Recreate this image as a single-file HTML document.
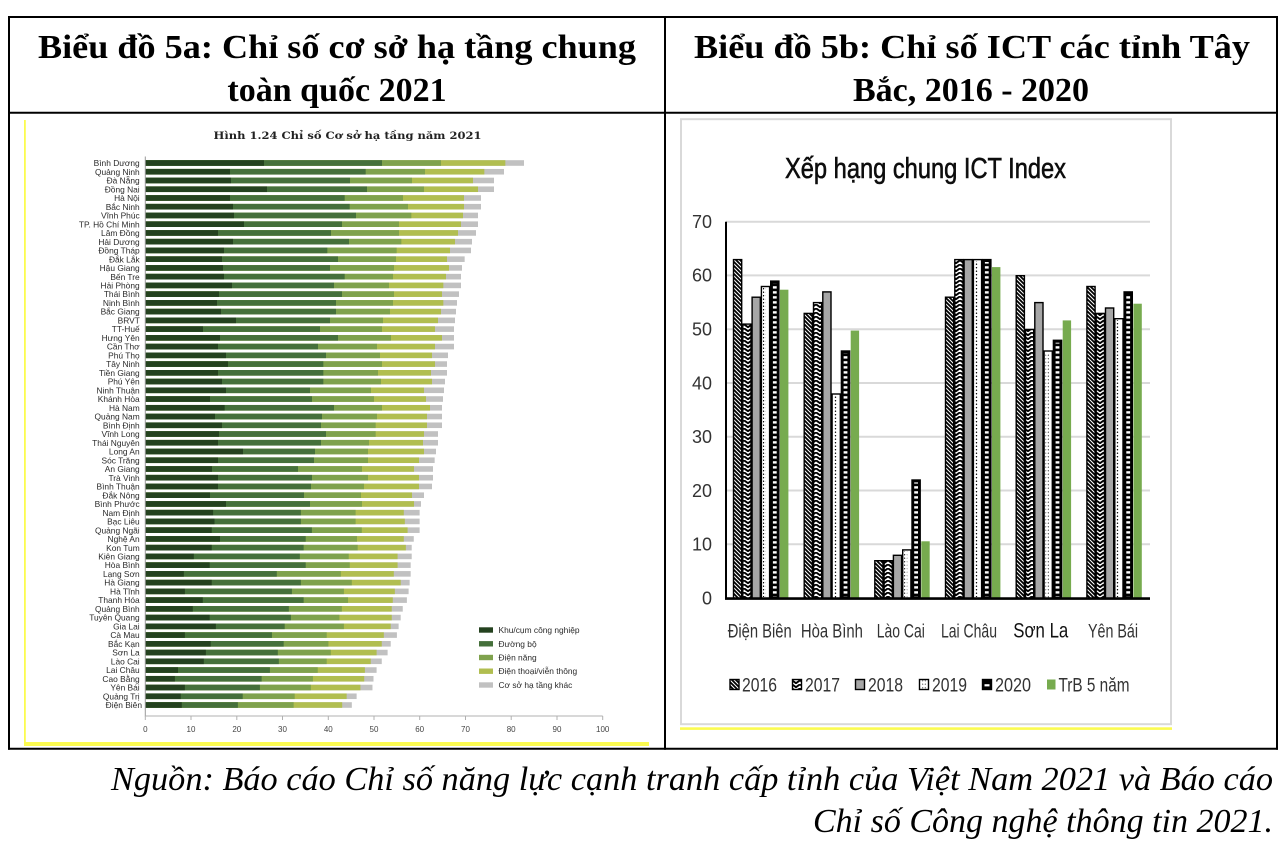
<!DOCTYPE html>
<html><head><meta charset="utf-8">
<style>
html,body{margin:0;padding:0;background:#fff;}
svg{display:block;}
.a{fill:#24421f}.b{fill:#45703b}.c{fill:#7fa24d}.d{fill:#b1be50}.e{fill:#c1c1c1}
.pl{font-family:"Liberation Sans",sans-serif;font-size:8.4px;fill:#2a2a2a;}
.tk{font-family:"Liberation Sans",sans-serif;font-size:8px;fill:#444;}
.rt{font-family:"Liberation Sans Narrow","Liberation Sans",sans-serif;fill:#333;}
</style></head>
<body>
<svg width="1286" height="842" viewBox="0 0 1286 842" xmlns="http://www.w3.org/2000/svg">
<defs>
<clipPath id="cl"><rect x="145.3" y="150" width="470" height="570"/></clipPath>
<pattern id="p16" patternUnits="userSpaceOnUse" width="4" height="4"><rect width="4" height="4" fill="#fff"/><path d="M-1,-1 L5,5 M-1,3 L1,5 M3,-1 L5,1" stroke="#000" stroke-width="1.8"/></pattern>
<pattern id="p17" patternUnits="userSpaceOnUse" width="8" height="4"><rect width="8" height="4" fill="#fff"/><path d="M0,0.3 L4,3.2 L8,0.3" stroke="#000" stroke-width="1.9" fill="none"/></pattern>
<pattern id="p19" patternUnits="userSpaceOnUse" width="3" height="3.5"><circle cx="1.5" cy="1.75" r="0.7" fill="#000"/></pattern>
<pattern id="p20" patternUnits="userSpaceOnUse" width="10" height="5"><rect width="10" height="5" fill="#000"/><rect y="1.2" width="10" height="2.4" fill="#fff"/></pattern>
</defs>

<!-- table borders -->
<g stroke="#000" stroke-width="2" fill="none">
<line x1="8" y1="17" x2="1278" y2="17"/>
<line x1="8" y1="748.7" x2="1278" y2="748.7"/>
<line x1="9" y1="16" x2="9" y2="749.7"/>
<line x1="1277" y1="16" x2="1277" y2="749.7"/>
<line x1="665" y1="16" x2="665" y2="749.7"/>
<line x1="8" y1="112.7" x2="1278" y2="112.7"/>
</g>

<!-- headers -->
<g font-family="'Liberation Serif',serif" font-weight="bold" font-size="34" fill="#000" text-anchor="middle">
<text x="337" y="58" textLength="598" lengthAdjust="spacingAndGlyphs">Biểu đồ 5a: Chỉ số cơ sở hạ tầng chung</text>
<text x="337" y="101">toàn quốc 2021</text>
<text x="972" y="58" textLength="556" lengthAdjust="spacingAndGlyphs">Biểu đồ 5b: Chỉ số ICT các tỉnh Tây</text>
<text x="971" y="101">Bắc, 2016 - 2020</text>
</g>

<!-- source -->
<g font-family="'Liberation Serif',serif" font-style="italic" font-size="34" fill="#000" text-anchor="end">
<text x="1273" y="790" textLength="1162" lengthAdjust="spacingAndGlyphs">Nguồn: Báo cáo Chỉ số năng lực cạnh tranh cấp tỉnh của Việt Nam 2021 và Báo cáo</text>
<text x="1273" y="832" textLength="460" lengthAdjust="spacingAndGlyphs">Chỉ số Công nghệ thông tin 2021.</text>
</g>

<!-- LEFT CHART -->
<rect x="24" y="120" width="1.8" height="626" fill="#fbfb50"/>
<rect x="24.6" y="742" width="624.4" height="4" fill="#fbfb50"/>

<text x="347.5" y="139" text-anchor="middle" font-family="'DejaVu Serif','Liberation Serif',serif" font-weight="bold" font-size="10" fill="#222" textLength="268" lengthAdjust="spacingAndGlyphs">Hình 1.24 Chỉ số Cơ sở hạ tầng năm 2021</text>

<g clip-path="url(#cl)">
<g transform="translate(80,0) scale(0.333333,1)">
<rect y="160.2" height="5.6" width="1332" class="e"/><rect y="160.2" height="5.6" width="1276" class="d"/><rect y="160.2" height="5.6" width="1083" class="c"/><rect y="160.2" height="5.6" width="906" class="b"/><rect y="160.2" height="5.6" width="552" class="a"/>
<rect y="168.94" height="5.6" width="1272" class="e"/><rect y="168.94" height="5.6" width="1213" class="d"/><rect y="168.94" height="5.6" width="1035" class="c"/><rect y="168.94" height="5.6" width="857" class="b"/><rect y="168.94" height="5.6" width="450" class="a"/>
<rect y="177.68" height="5.6" width="1242" class="e"/><rect y="177.68" height="5.6" width="1179" class="d"/><rect y="177.68" height="5.6" width="996" class="c"/><rect y="177.68" height="5.6" width="810" class="b"/><rect y="177.68" height="5.6" width="453" class="a"/>
<rect y="186.43" height="5.6" width="1242" class="e"/><rect y="186.43" height="5.6" width="1194" class="d"/><rect y="186.43" height="5.6" width="1032" class="c"/><rect y="186.43" height="5.6" width="861" class="b"/><rect y="186.43" height="5.6" width="561" class="a"/>
<rect y="195.17" height="5.6" width="1203" class="e"/><rect y="195.17" height="5.6" width="1152" class="d"/><rect y="195.17" height="5.6" width="969" class="c"/><rect y="195.17" height="5.6" width="794" class="b"/><rect y="195.17" height="5.6" width="450" class="a"/>
<rect y="203.91" height="5.6" width="1203" class="e"/><rect y="203.91" height="5.6" width="1152" class="d"/><rect y="203.91" height="5.6" width="984" class="c"/><rect y="203.91" height="5.6" width="809" class="b"/><rect y="203.91" height="5.6" width="459" class="a"/>
<rect y="212.65" height="5.6" width="1194" class="e"/><rect y="212.65" height="5.6" width="1149" class="d"/><rect y="212.65" height="5.6" width="994" class="c"/><rect y="212.65" height="5.6" width="828" class="b"/><rect y="212.65" height="5.6" width="462" class="a"/>
<rect y="221.39" height="5.6" width="1194" class="e"/><rect y="221.39" height="5.6" width="1143" class="d"/><rect y="221.39" height="5.6" width="957" class="c"/><rect y="221.39" height="5.6" width="786" class="b"/><rect y="221.39" height="5.6" width="492" class="a"/>
<rect y="230.14" height="5.6" width="1188" class="e"/><rect y="230.14" height="5.6" width="1134" class="d"/><rect y="230.14" height="5.6" width="957" class="c"/><rect y="230.14" height="5.6" width="753" class="b"/><rect y="230.14" height="5.6" width="414" class="a"/>
<rect y="238.88" height="5.6" width="1176" class="e"/><rect y="238.88" height="5.6" width="1125" class="d"/><rect y="238.88" height="5.6" width="964" class="c"/><rect y="238.88" height="5.6" width="807" class="b"/><rect y="238.88" height="5.6" width="459" class="a"/>
<rect y="247.62" height="5.6" width="1173" class="e"/><rect y="247.62" height="5.6" width="1110" class="d"/><rect y="247.62" height="5.6" width="950" class="c"/><rect y="247.62" height="5.6" width="742" class="b"/><rect y="247.62" height="5.6" width="432" class="a"/>
<rect y="256.36" height="5.6" width="1154" class="e"/><rect y="256.36" height="5.6" width="1101" class="d"/><rect y="256.36" height="5.6" width="948" class="c"/><rect y="256.36" height="5.6" width="774" class="b"/><rect y="256.36" height="5.6" width="426" class="a"/>
<rect y="265.1" height="5.6" width="1146" class="e"/><rect y="265.1" height="5.6" width="1107" class="d"/><rect y="265.1" height="5.6" width="942" class="c"/><rect y="265.1" height="5.6" width="750" class="b"/><rect y="265.1" height="5.6" width="429" class="a"/>
<rect y="273.85" height="5.6" width="1143" class="e"/><rect y="273.85" height="5.6" width="1098" class="d"/><rect y="273.85" height="5.6" width="939" class="c"/><rect y="273.85" height="5.6" width="794" class="b"/><rect y="273.85" height="5.6" width="432" class="a"/>
<rect y="282.59" height="5.6" width="1143" class="e"/><rect y="282.59" height="5.6" width="1090" class="d"/><rect y="282.59" height="5.6" width="927" class="c"/><rect y="282.59" height="5.6" width="762" class="b"/><rect y="282.59" height="5.6" width="456" class="a"/>
<rect y="291.33" height="5.6" width="1137" class="e"/><rect y="291.33" height="5.6" width="1086" class="d"/><rect y="291.33" height="5.6" width="942" class="c"/><rect y="291.33" height="5.6" width="786" class="b"/><rect y="291.33" height="5.6" width="417" class="a"/>
<rect y="300.07" height="5.6" width="1131" class="e"/><rect y="300.07" height="5.6" width="1090" class="d"/><rect y="300.07" height="5.6" width="939" class="c"/><rect y="300.07" height="5.6" width="768" class="b"/><rect y="300.07" height="5.6" width="411" class="a"/>
<rect y="308.81" height="5.6" width="1128" class="e"/><rect y="308.81" height="5.6" width="1083" class="d"/><rect y="308.81" height="5.6" width="930" class="c"/><rect y="308.81" height="5.6" width="768" class="b"/><rect y="308.81" height="5.6" width="423" class="a"/>
<rect y="317.56" height="5.6" width="1125" class="e"/><rect y="317.56" height="5.6" width="1074" class="d"/><rect y="317.56" height="5.6" width="909" class="c"/><rect y="317.56" height="5.6" width="750" class="b"/><rect y="317.56" height="5.6" width="468" class="a"/>
<rect y="326.3" height="5.6" width="1122" class="e"/><rect y="326.3" height="5.6" width="1065" class="d"/><rect y="326.3" height="5.6" width="906" class="c"/><rect y="326.3" height="5.6" width="720" class="b"/><rect y="326.3" height="5.6" width="369" class="a"/>
<rect y="335.04" height="5.6" width="1122" class="e"/><rect y="335.04" height="5.6" width="1086" class="d"/><rect y="335.04" height="5.6" width="933" class="c"/><rect y="335.04" height="5.6" width="774" class="b"/><rect y="335.04" height="5.6" width="420" class="a"/>
<rect y="343.78" height="5.6" width="1122" class="e"/><rect y="343.78" height="5.6" width="1065" class="d"/><rect y="343.78" height="5.6" width="891" class="c"/><rect y="343.78" height="5.6" width="714" class="b"/><rect y="343.78" height="5.6" width="414" class="a"/>
<rect y="352.52" height="5.6" width="1104" class="e"/><rect y="352.52" height="5.6" width="1056" class="d"/><rect y="352.52" height="5.6" width="900" class="c"/><rect y="352.52" height="5.6" width="738" class="b"/><rect y="352.52" height="5.6" width="438" class="a"/>
<rect y="361.27" height="5.6" width="1101" class="e"/><rect y="361.27" height="5.6" width="1065" class="d"/><rect y="361.27" height="5.6" width="906" class="c"/><rect y="361.27" height="5.6" width="730" class="b"/><rect y="361.27" height="5.6" width="444" class="a"/>
<rect y="370.01" height="5.6" width="1101" class="e"/><rect y="370.01" height="5.6" width="1053" class="d"/><rect y="370.01" height="5.6" width="894" class="c"/><rect y="370.01" height="5.6" width="730" class="b"/><rect y="370.01" height="5.6" width="414" class="a"/>
<rect y="378.75" height="5.6" width="1095" class="e"/><rect y="378.75" height="5.6" width="1056" class="d"/><rect y="378.75" height="5.6" width="903" class="c"/><rect y="378.75" height="5.6" width="730" class="b"/><rect y="378.75" height="5.6" width="426" class="a"/>
<rect y="387.49" height="5.6" width="1092" class="e"/><rect y="387.49" height="5.6" width="1032" class="d"/><rect y="387.49" height="5.6" width="873" class="c"/><rect y="387.49" height="5.6" width="690" class="b"/><rect y="387.49" height="5.6" width="438" class="a"/>
<rect y="396.23" height="5.6" width="1089" class="e"/><rect y="396.23" height="5.6" width="1038" class="d"/><rect y="396.23" height="5.6" width="882" class="c"/><rect y="396.23" height="5.6" width="696" class="b"/><rect y="396.23" height="5.6" width="390" class="a"/>
<rect y="404.98" height="5.6" width="1086" class="e"/><rect y="404.98" height="5.6" width="1050" class="d"/><rect y="404.98" height="5.6" width="906" class="c"/><rect y="404.98" height="5.6" width="762" class="b"/><rect y="404.98" height="5.6" width="434" class="a"/>
<rect y="413.72" height="5.6" width="1086" class="e"/><rect y="413.72" height="5.6" width="1041" class="d"/><rect y="413.72" height="5.6" width="891" class="c"/><rect y="413.72" height="5.6" width="726" class="b"/><rect y="413.72" height="5.6" width="405" class="a"/>
<rect y="422.46" height="5.6" width="1086" class="e"/><rect y="422.46" height="5.6" width="1041" class="d"/><rect y="422.46" height="5.6" width="887" class="c"/><rect y="422.46" height="5.6" width="723" class="b"/><rect y="422.46" height="5.6" width="426" class="a"/>
<rect y="431.2" height="5.6" width="1074" class="e"/><rect y="431.2" height="5.6" width="1032" class="d"/><rect y="431.2" height="5.6" width="887" class="c"/><rect y="431.2" height="5.6" width="738" class="b"/><rect y="431.2" height="5.6" width="417" class="a"/>
<rect y="439.94" height="5.6" width="1074" class="e"/><rect y="439.94" height="5.6" width="1029" class="d"/><rect y="439.94" height="5.6" width="867" class="c"/><rect y="439.94" height="5.6" width="723" class="b"/><rect y="439.94" height="5.6" width="414" class="a"/>
<rect y="448.69" height="5.6" width="1068" class="e"/><rect y="448.69" height="5.6" width="1032" class="d"/><rect y="448.69" height="5.6" width="864" class="c"/><rect y="448.69" height="5.6" width="705" class="b"/><rect y="448.69" height="5.6" width="489" class="a"/>
<rect y="457.43" height="5.6" width="1064" class="e"/><rect y="457.43" height="5.6" width="1017" class="d"/><rect y="457.43" height="5.6" width="864" class="c"/><rect y="457.43" height="5.6" width="702" class="b"/><rect y="457.43" height="5.6" width="414" class="a"/>
<rect y="466.17" height="5.6" width="1059" class="e"/><rect y="466.17" height="5.6" width="1002" class="d"/><rect y="466.17" height="5.6" width="846" class="c"/><rect y="466.17" height="5.6" width="654" class="b"/><rect y="466.17" height="5.6" width="396" class="a"/>
<rect y="474.91" height="5.6" width="1059" class="e"/><rect y="474.91" height="5.6" width="1017" class="d"/><rect y="474.91" height="5.6" width="864" class="c"/><rect y="474.91" height="5.6" width="696" class="b"/><rect y="474.91" height="5.6" width="414" class="a"/>
<rect y="483.65" height="5.6" width="1056" class="e"/><rect y="483.65" height="5.6" width="1017" class="d"/><rect y="483.65" height="5.6" width="852" class="c"/><rect y="483.65" height="5.6" width="693" class="b"/><rect y="483.65" height="5.6" width="414" class="a"/>
<rect y="492.4" height="5.6" width="1032" class="e"/><rect y="492.4" height="5.6" width="996" class="d"/><rect y="492.4" height="5.6" width="843" class="c"/><rect y="492.4" height="5.6" width="672" class="b"/><rect y="492.4" height="5.6" width="390" class="a"/>
<rect y="501.14" height="5.6" width="1023" class="e"/><rect y="501.14" height="5.6" width="1002" class="d"/><rect y="501.14" height="5.6" width="846" class="c"/><rect y="501.14" height="5.6" width="690" class="b"/><rect y="501.14" height="5.6" width="438" class="a"/>
</g>
<g transform="translate(79.9,0) scale(0.3442,1)">
<rect y="509.88" height="5.6" width="987" class="e"/><rect y="509.88" height="5.6" width="941" class="d"/><rect y="509.88" height="5.6" width="801" class="c"/><rect y="509.88" height="5.6" width="642" class="b"/><rect y="509.88" height="5.6" width="387" class="a"/>
<rect y="518.62" height="5.6" width="987" class="e"/><rect y="518.62" height="5.6" width="944" class="d"/><rect y="518.62" height="5.6" width="801" class="c"/><rect y="518.62" height="5.6" width="642" class="b"/><rect y="518.62" height="5.6" width="391" class="a"/>
<rect y="527.36" height="5.6" width="987" class="e"/><rect y="527.36" height="5.6" width="952" class="d"/><rect y="527.36" height="5.6" width="819" class="c"/><rect y="527.36" height="5.6" width="674" class="b"/><rect y="527.36" height="5.6" width="383" class="a"/>
<rect y="536.11" height="5.6" width="970" class="e"/><rect y="536.11" height="5.6" width="941" class="d"/><rect y="536.11" height="5.6" width="805" class="c"/><rect y="536.11" height="5.6" width="656" class="b"/><rect y="536.11" height="5.6" width="407" class="a"/>
<rect y="544.85" height="5.6" width="964" class="e"/><rect y="544.85" height="5.6" width="947" class="d"/><rect y="544.85" height="5.6" width="807" class="c"/><rect y="544.85" height="5.6" width="650" class="b"/><rect y="544.85" height="5.6" width="383" class="a"/>
<rect y="553.59" height="5.6" width="964" class="e"/><rect y="553.59" height="5.6" width="923" class="d"/><rect y="553.59" height="5.6" width="781" class="c"/><rect y="553.59" height="5.6" width="639" class="b"/><rect y="553.59" height="5.6" width="331" class="a"/>
<rect y="562.33" height="5.6" width="961" class="e"/><rect y="562.33" height="5.6" width="923" class="d"/><rect y="562.33" height="5.6" width="784" class="c"/><rect y="562.33" height="5.6" width="656" class="b"/><rect y="562.33" height="5.6" width="377" class="a"/>
<rect y="571.07" height="5.6" width="961" class="e"/><rect y="571.07" height="5.6" width="912" class="d"/><rect y="571.07" height="5.6" width="758" class="c"/><rect y="571.07" height="5.6" width="572" class="b"/><rect y="571.07" height="5.6" width="302" class="a"/>
<rect y="579.82" height="5.6" width="958" class="e"/><rect y="579.82" height="5.6" width="932" class="d"/><rect y="579.82" height="5.6" width="790" class="c"/><rect y="579.82" height="5.6" width="642" class="b"/><rect y="579.82" height="5.6" width="383" class="a"/>
<rect y="588.56" height="5.6" width="955" class="e"/><rect y="588.56" height="5.6" width="915" class="d"/><rect y="588.56" height="5.6" width="767" class="c"/><rect y="588.56" height="5.6" width="616" class="b"/><rect y="588.56" height="5.6" width="305" class="a"/>
<rect y="597.3" height="5.6" width="950" class="e"/><rect y="597.3" height="5.6" width="909" class="d"/><rect y="597.3" height="5.6" width="779" class="c"/><rect y="597.3" height="5.6" width="650" class="b"/><rect y="597.3" height="5.6" width="357" class="a"/>
<rect y="606.04" height="5.6" width="938" class="e"/><rect y="606.04" height="5.6" width="906" class="d"/><rect y="606.04" height="5.6" width="761" class="c"/><rect y="606.04" height="5.6" width="607" class="b"/><rect y="606.04" height="5.6" width="328" class="a"/>
<rect y="614.78" height="5.6" width="932" class="e"/><rect y="614.78" height="5.6" width="906" class="d"/><rect y="614.78" height="5.6" width="754" class="c"/><rect y="614.78" height="5.6" width="613" class="b"/><rect y="614.78" height="5.6" width="377" class="a"/>
<rect y="623.53" height="5.6" width="926" class="e"/><rect y="623.53" height="5.6" width="903" class="d"/><rect y="623.53" height="5.6" width="767" class="c"/><rect y="623.53" height="5.6" width="595" class="b"/><rect y="623.53" height="5.6" width="395" class="a"/>
<rect y="632.27" height="5.6" width="921" class="e"/><rect y="632.27" height="5.6" width="883" class="d"/><rect y="632.27" height="5.6" width="717" class="c"/><rect y="632.27" height="5.6" width="558" class="b"/><rect y="632.27" height="5.6" width="305" class="a"/>
<rect y="641.01" height="5.6" width="903" class="e"/><rect y="641.01" height="5.6" width="877" class="d"/><rect y="641.01" height="5.6" width="722" class="c"/><rect y="641.01" height="5.6" width="592" class="b"/><rect y="641.01" height="5.6" width="380" class="a"/>
<rect y="649.75" height="5.6" width="894" class="e"/><rect y="649.75" height="5.6" width="862" class="d"/><rect y="649.75" height="5.6" width="729" class="c"/><rect y="649.75" height="5.6" width="575" class="b"/><rect y="649.75" height="5.6" width="366" class="a"/>
<rect y="658.49" height="5.6" width="877" class="e"/><rect y="658.49" height="5.6" width="845" class="d"/><rect y="658.49" height="5.6" width="717" class="c"/><rect y="658.49" height="5.6" width="578" class="b"/><rect y="658.49" height="5.6" width="360" class="a"/>
<rect y="667.24" height="5.6" width="862" class="e"/><rect y="667.24" height="5.6" width="828" class="d"/><rect y="667.24" height="5.6" width="691" class="c"/><rect y="667.24" height="5.6" width="552" class="b"/><rect y="667.24" height="5.6" width="285" class="a"/>
<rect y="675.98" height="5.6" width="853" class="e"/><rect y="675.98" height="5.6" width="826" class="d"/><rect y="675.98" height="5.6" width="677" class="c"/><rect y="675.98" height="5.6" width="528" class="b"/><rect y="675.98" height="5.6" width="276" class="a"/>
<rect y="684.72" height="5.6" width="850" class="e"/><rect y="684.72" height="5.6" width="815" class="d"/><rect y="684.72" height="5.6" width="671" class="c"/><rect y="684.72" height="5.6" width="523" class="b"/><rect y="684.72" height="5.6" width="305" class="a"/>
<rect y="693.46" height="5.6" width="804" class="e"/><rect y="693.46" height="5.6" width="775" class="d"/><rect y="693.46" height="5.6" width="624" class="c"/><rect y="693.46" height="5.6" width="473" class="b"/><rect y="693.46" height="5.6" width="293" class="a"/>
<rect y="702.2" height="5.6" width="790" class="e"/><rect y="702.2" height="5.6" width="762" class="d"/><rect y="702.2" height="5.6" width="621" class="c"/><rect y="702.2" height="5.6" width="459" class="b"/><rect y="702.2" height="5.6" width="296" class="a"/>
</g>
</g>

<!-- left axes -->
<line x1="145.3" y1="156.5" x2="145.3" y2="716.5" stroke="#9a9a9a" stroke-width="1"/>
<line x1="145.3" y1="716" x2="602.7" y2="716" stroke="#b0b0b0" stroke-width="1"/>
<g stroke="#b0b0b0" stroke-width="1">
<line x1="145.3" y1="716" x2="145.3" y2="720"/><line x1="191" y1="716" x2="191" y2="720"/><line x1="236.8" y1="716" x2="236.8" y2="720"/><line x1="282.5" y1="716" x2="282.5" y2="720"/><line x1="328.3" y1="716" x2="328.3" y2="720"/><line x1="374" y1="716" x2="374" y2="720"/><line x1="419.7" y1="716" x2="419.7" y2="720"/><line x1="465.5" y1="716" x2="465.5" y2="720"/><line x1="511.2" y1="716" x2="511.2" y2="720"/><line x1="557" y1="716" x2="557" y2="720"/><line x1="602.7" y1="716" x2="602.7" y2="720"/>
</g>
<g class="tk" text-anchor="middle">
<text x="145.3" y="732">0</text><text x="191" y="732">10</text><text x="236.8" y="732">20</text><text x="282.5" y="732">30</text><text x="328.3" y="732">40</text><text x="374" y="732">50</text><text x="419.7" y="732">60</text><text x="465.5" y="732">70</text><text x="511.2" y="732">80</text><text x="557" y="732">90</text><text x="602.7" y="732">100</text>
</g>

<!-- province labels -->
<text class="pl" text-anchor="end">
<tspan x="142" y="166.1">Bình Dương</tspan>
<tspan x="142" y="174.84">Quảng Ninh</tspan>
<tspan x="142" y="183.58">Đà Nẵng</tspan>
<tspan x="142" y="192.33">Đồng Nai</tspan>
<tspan x="142" y="201.07">Hà Nội</tspan>
<tspan x="142" y="209.81">Bắc Ninh</tspan>
<tspan x="142" y="218.55">Vĩnh Phúc</tspan>
<tspan x="142" y="227.29">TP. Hồ Chí Minh</tspan>
<tspan x="142" y="236.04">Lâm Đồng</tspan>
<tspan x="142" y="244.78">Hải Dương</tspan>
<tspan x="142" y="253.52">Đồng Tháp</tspan>
<tspan x="142" y="262.26">Đắk Lắk</tspan>
<tspan x="142" y="271">Hậu Giang</tspan>
<tspan x="142" y="279.75">Bến Tre</tspan>
<tspan x="142" y="288.49">Hải Phòng</tspan>
<tspan x="142" y="297.23">Thái Bình</tspan>
<tspan x="142" y="305.97">Ninh Bình</tspan>
<tspan x="142" y="314.71">Bắc Giang</tspan>
<tspan x="142" y="323.46">BRVT</tspan>
<tspan x="142" y="332.2">TT-Huế</tspan>
<tspan x="142" y="340.94">Hưng Yên</tspan>
<tspan x="142" y="349.68">Cần Thơ</tspan>
<tspan x="142" y="358.42">Phú Thọ</tspan>
<tspan x="142" y="367.17">Tây Ninh</tspan>
<tspan x="142" y="375.91">Tiền Giang</tspan>
<tspan x="142" y="384.65">Phú Yên</tspan>
<tspan x="142" y="393.39">Ninh Thuận</tspan>
<tspan x="142" y="402.13">Khánh Hòa</tspan>
<tspan x="142" y="410.88">Hà Nam</tspan>
<tspan x="142" y="419.62">Quảng Nam</tspan>
<tspan x="142" y="428.36">Bình Định</tspan>
<tspan x="142" y="437.1">Vĩnh Long</tspan>
<tspan x="142" y="445.84">Thái Nguyên</tspan>
<tspan x="142" y="454.59">Long An</tspan>
<tspan x="142" y="463.33">Sóc Trăng</tspan>
<tspan x="142" y="472.07">An Giang</tspan>
<tspan x="142" y="480.81">Trà Vinh</tspan>
<tspan x="142" y="489.55">Bình Thuận</tspan>
<tspan x="142" y="498.3">Đắk Nông</tspan>
<tspan x="142" y="507.04">Bình Phước</tspan>
<tspan x="142" y="515.78">Nam Định</tspan>
<tspan x="142" y="524.52">Bạc Liêu</tspan>
<tspan x="142" y="533.26">Quảng Ngãi</tspan>
<tspan x="142" y="542.01">Nghệ An</tspan>
<tspan x="142" y="550.75">Kon Tum</tspan>
<tspan x="142" y="559.49">Kiên Giang</tspan>
<tspan x="142" y="568.23">Hòa Bình</tspan>
<tspan x="142" y="576.97">Lạng Sơn</tspan>
<tspan x="142" y="585.72">Hà Giang</tspan>
<tspan x="142" y="594.46">Hà Tĩnh</tspan>
<tspan x="142" y="603.2">Thanh Hóa</tspan>
<tspan x="142" y="611.94">Quảng Bình</tspan>
<tspan x="142" y="620.68">Tuyên Quang</tspan>
<tspan x="142" y="629.43">Gia Lai</tspan>
<tspan x="142" y="638.17">Cà Mau</tspan>
<tspan x="142" y="646.91">Bắc Kạn</tspan>
<tspan x="142" y="655.65">Sơn La</tspan>
<tspan x="142" y="664.39">Lào Cai</tspan>
<tspan x="142" y="673.14">Lai Châu</tspan>
<tspan x="142" y="681.88">Cao Bằng</tspan>
<tspan x="142" y="690.62">Yên Bái</tspan>
<tspan x="142" y="699.36">Quảng Trị</tspan>
<tspan x="142" y="708.1">Điện Biên</tspan>
</text>

<!-- left legend -->
<rect x="479" y="627.3" width="14" height="5.4" class="a"/>
<rect x="479" y="641.1" width="14" height="5.4" class="b"/>
<rect x="479" y="654.8" width="14" height="5.4" class="c"/>
<rect x="479" y="668.5" width="14" height="5.4" class="d"/>
<rect x="479" y="682.3" width="14" height="5.4" class="e"/>
<g class="pl">
<text x="498.5" y="633">Khu/cụm công nghiệp</text>
<text x="498.5" y="646.8">Đường bộ</text>
<text x="498.5" y="660.5">Điện năng</text>
<text x="498.5" y="674.2">Điện thoại/viễn thông</text>
<text x="498.5" y="688">Cơ sở hạ tầng khác</text>
</g>

<!-- RIGHT CHART -->
<rect x="681" y="119.2" width="490" height="605" fill="#fff" stroke="#d9d9d9" stroke-width="2"/>
<rect x="680" y="727.3" width="492" height="2.6" fill="#fbfb50"/>

<text x="925.5" y="178" text-anchor="middle" font-family="'Liberation Sans Narrow','Liberation Sans',sans-serif" font-size="29" fill="#0d0d0d" stroke="#0d0d0d" stroke-width="0.6" textLength="281" lengthAdjust="spacingAndGlyphs">Xếp hạng chung ICT Index</text>

<!-- gridlines -->
<g stroke="#d9d9d9" stroke-width="2">
<line x1="726" y1="221.7" x2="1150" y2="221.7"/>
<line x1="726" y1="275.4" x2="1150" y2="275.4"/>
<line x1="726" y1="329.2" x2="1150" y2="329.2"/>
<line x1="726" y1="383" x2="1150" y2="383"/>
<line x1="726" y1="436.7" x2="1150" y2="436.7"/>
<line x1="726" y1="490.5" x2="1150" y2="490.5"/>
<line x1="726" y1="544.2" x2="1150" y2="544.2"/>
</g>

<!-- y labels -->
<g class="rt" font-size="18" text-anchor="end">
<text x="712" y="228" textLength="20" lengthAdjust="spacingAndGlyphs">70</text>
<text x="712" y="281.7" textLength="20" lengthAdjust="spacingAndGlyphs">60</text>
<text x="712" y="335.5" textLength="20" lengthAdjust="spacingAndGlyphs">50</text>
<text x="712" y="389.3" textLength="20" lengthAdjust="spacingAndGlyphs">40</text>
<text x="712" y="443" textLength="20" lengthAdjust="spacingAndGlyphs">30</text>
<text x="712" y="496.8" textLength="20" lengthAdjust="spacingAndGlyphs">20</text>
<text x="712" y="550.5" textLength="20" lengthAdjust="spacingAndGlyphs">10</text>
<text x="712" y="604.3">0</text>
</g>

<!-- bars -->
<g stroke="#000" stroke-width="1.4">
<!-- Dien Bien -->
<rect x="733.5" y="259.6" width="8.2" height="338.7" fill="url(#p16)"/>
<rect x="742.8" y="324.1" width="8.2" height="274.2" fill="url(#p17)"/>
<rect x="752.1" y="297.2" width="8.2" height="301.1" fill="#a6a6a6"/>
<rect x="761.4" y="286.5" width="8.2" height="311.8" fill="#fff"/>
<rect x="770.7" y="281.1" width="8.2" height="317.2" fill="#000"/>
<!-- Hoa Binh -->
<rect x="804.2" y="313.4" width="8.2" height="284.9" fill="url(#p16)"/>
<rect x="813.5" y="302.6" width="8.2" height="295.7" fill="url(#p17)"/>
<rect x="822.8" y="291.9" width="8.2" height="306.4" fill="#a6a6a6"/>
<rect x="832.1" y="394" width="8.2" height="204.3" fill="#fff"/>
<rect x="841.4" y="351" width="8.2" height="247.3" fill="#000"/>
<!-- Lao Cai -->
<rect x="874.8" y="560.7" width="8.2" height="37.6" fill="url(#p16)"/>
<rect x="884.1" y="560.7" width="8.2" height="37.6" fill="url(#p17)"/>
<rect x="893.4" y="555.3" width="8.2" height="43" fill="#a6a6a6"/>
<rect x="902.7" y="549.9" width="8.2" height="48.4" fill="#fff"/>
<rect x="912" y="480" width="8.2" height="118.3" fill="#000"/>
<!-- Lai Chau -->
<rect x="945.5" y="297.2" width="8.2" height="301.1" fill="url(#p16)"/>
<rect x="954.8" y="259.6" width="8.2" height="338.7" fill="url(#p17)"/>
<rect x="964.1" y="259.6" width="8.2" height="338.7" fill="#a6a6a6"/>
<rect x="973.4" y="259.6" width="8.2" height="338.7" fill="#fff"/>
<rect x="982.7" y="259.6" width="8.2" height="338.7" fill="#000"/>
<!-- Son La -->
<rect x="1016.2" y="275.7" width="8.2" height="322.6" fill="url(#p16)"/>
<rect x="1025.5" y="329.5" width="8.2" height="268.8" fill="url(#p17)"/>
<rect x="1034.8" y="302.6" width="8.2" height="295.7" fill="#a6a6a6"/>
<rect x="1044.1" y="351" width="8.2" height="247.3" fill="#fff"/>
<rect x="1053.4" y="340.3" width="8.2" height="258" fill="#000"/>
<!-- Yen Bai -->
<rect x="1086.9" y="286.5" width="8.2" height="311.8" fill="url(#p16)"/>
<rect x="1096.2" y="313.4" width="8.2" height="284.9" fill="url(#p17)"/>
<rect x="1105.5" y="308" width="8.2" height="290.3" fill="#a6a6a6"/>
<rect x="1114.8" y="318.7" width="8.2" height="279.6" fill="#fff"/>
<rect x="1124.1" y="291.9" width="8.2" height="306.4" fill="#000"/>
</g>
<!-- inner details: 2019 dots, 2020 white dashes -->
<g fill="url(#p19)">
<rect x="762.9" y="288" width="3" height="309"/>
<rect x="833.6" y="395.5" width="3" height="202"/>
<rect x="904.2" y="551.4" width="3" height="46"/>
<rect x="974.9" y="261.1" width="3" height="336"/>
<rect x="1045.6" y="352.5" width="3" height="245"/>
<rect x="1116.3" y="320.2" width="3" height="277"/>
</g>
<g fill="url(#p20)">
<rect x="772.9" y="283.5" width="3.8" height="313"/>
<rect x="843.6" y="353.4" width="3.8" height="243"/>
<rect x="914.2" y="482.4" width="3.8" height="114"/>
<rect x="984.9" y="262" width="3.8" height="334.5"/>
<rect x="1055.6" y="342.7" width="3.8" height="254"/>
<rect x="1126.3" y="294.3" width="3.8" height="302"/>
</g>
<!-- TrB -->
<g fill="#77ab4f">
<rect x="780" y="289.7" width="8.4" height="308.6"/>
<rect x="850.7" y="330.6" width="8.4" height="267.7"/>
<rect x="921.3" y="541.3" width="8.4" height="57"/>
<rect x="992" y="267.1" width="8.4" height="331.2"/>
<rect x="1062.7" y="320.4" width="8.4" height="277.9"/>
<rect x="1133.4" y="303.7" width="8.4" height="294.6"/>
</g>

<!-- axes -->
<line x1="726" y1="221.7" x2="726" y2="599.5" stroke="#000" stroke-width="2"/>
<line x1="725" y1="598.6" x2="1150" y2="598.6" stroke="#000" stroke-width="2.6"/>

<!-- category labels -->
<g class="rt" font-size="19" text-anchor="middle">
<text x="759.7" y="637.5" textLength="64" lengthAdjust="spacingAndGlyphs">Điện Biên</text>
<text x="831.9" y="637.5" textLength="62" lengthAdjust="spacingAndGlyphs">Hòa Bình</text>
<text x="900.8" y="637.5" textLength="48" lengthAdjust="spacingAndGlyphs">Lào Cai</text>
<text x="969" y="637.5" textLength="56" lengthAdjust="spacingAndGlyphs">Lai Châu</text>
<text x="1040.8" y="637.5" font-family="'Liberation Sans',sans-serif" font-size="21" fill="#111" textLength="55" lengthAdjust="spacingAndGlyphs">Sơn La</text>
<text x="1113" y="637.5" textLength="50" lengthAdjust="spacingAndGlyphs">Yên Bái</text>
</g>

<!-- right legend -->
<g stroke="#000" stroke-width="1.4">
<rect x="730" y="679.5" width="9" height="10" fill="url(#p16)"/>
<rect x="792.5" y="679.5" width="9" height="10" fill="url(#p17)"/>
<rect x="855.5" y="679.5" width="9" height="10" fill="#a6a6a6"/>
<rect x="919.5" y="679.5" width="9" height="10" fill="#fff"/>
<rect x="982.5" y="679.5" width="9" height="10" fill="#000"/>
</g>
<rect x="922.5" y="680" width="3" height="9" fill="url(#p19)"/>
<rect x="984.5" y="684.2" width="5" height="2.2" fill="#fff"/>
<rect x="1047" y="679.5" width="8.5" height="10" fill="#77ab4f"/>
<g class="rt" font-size="19">
<text x="742" y="691.5" textLength="35" lengthAdjust="spacingAndGlyphs">2016</text>
<text x="805" y="691.5" textLength="35" lengthAdjust="spacingAndGlyphs">2017</text>
<text x="868" y="691.5" textLength="35" lengthAdjust="spacingAndGlyphs">2018</text>
<text x="932" y="691.5" textLength="35" lengthAdjust="spacingAndGlyphs">2019</text>
<text x="995" y="691.5" textLength="36" lengthAdjust="spacingAndGlyphs">2020</text>
<text x="1058.5" y="691.5" textLength="71" lengthAdjust="spacingAndGlyphs">TrB 5 năm</text>
</g>
</svg>
</body></html>
